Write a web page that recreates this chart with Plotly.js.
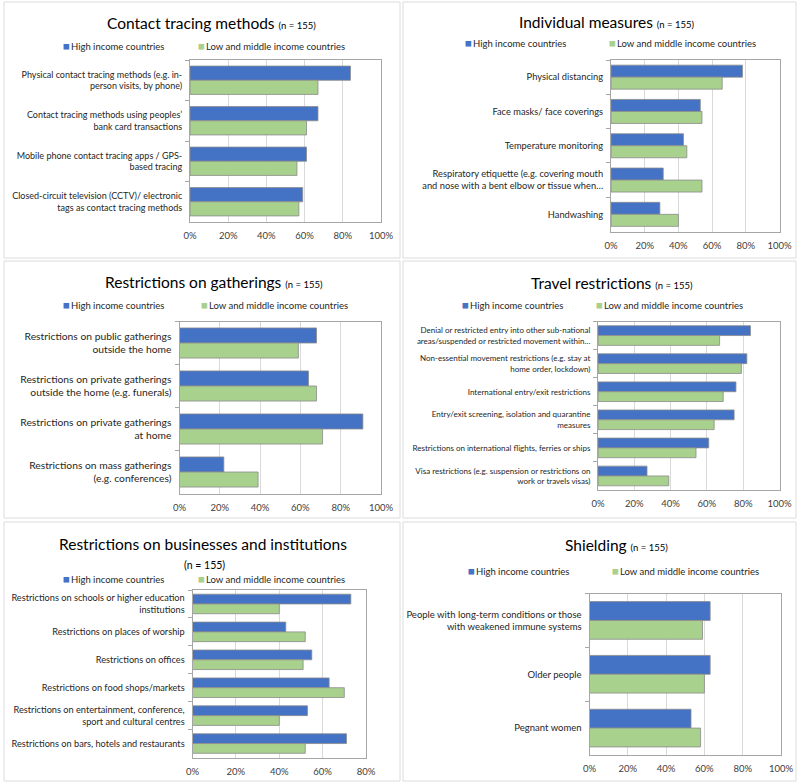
<!DOCTYPE html>
<html>
<head>
<meta charset="utf-8">
<script src="https://cdn.plot.ly/plotly-3.0.1.min.js"></script>
<style>html,body{margin:0;padding:0;background:#fff;}#chart{width:800px;height:784px;}</style>
</head>
<body>
<div id="chart"></div>
<script>
// ---------- DATA ----------
const seriesNames = ["High income countries", "Low and middle income countries"];

const contactCats = ["Physical contact tracing methods (e.g. in-<br>person visits, by phone)", "Contact tracing methods using peoples’<br>bank card transactions", "Mobile phone contact tracing apps / GPS-<br>based tracing", "Closed-circuit television (CCTV)/ electronic<br>tags as contact tracing methods"];
const contactHigh = [84, 67, 61, 59];
const contactLow = [67, 61, 56, 57];

const individualCats = ["Physical distancing", "Face masks/ face coverings", "Temperature monitoring", "Respiratory etiquette (e.g. covering mouth<br>and nose with a bent elbow or tissue when…", "Handwashing"];
const individualHigh = [78, 53, 43, 31, 29];
const individualLow = [66, 54, 45, 54, 40];

const gatherCats = ["Restrictions on public gatherings<br>outside the home", "Restrictions on private gatherings<br>outside the home (e.g. funerals)", "Restrictions on private gatherings<br>at home", "Restrictions on mass gatherings<br>(e.g. conferences)"];
const gatherHigh = [68, 64, 91, 22];
const gatherLow = [59, 68, 71, 39];

const travelCats = ["Denial or restricted entry into other sub-national<br>areas/suspended or restricted movement within…", "Non-essential movement restrictions (e.g. stay at<br>home order, lockdown)", "International entry/exit restrictions", "Entry/exit screening, isolation and quarantine<br>measures", "Restrictions on international flights, ferries or ships", "Visa restrictions (e.g. suspension or restrictions on<br>work or travels visas)"];
const travelHigh = [84, 82, 76, 75, 61, 27];
const travelLow = [67, 79, 69, 64, 54, 39];

const businessCats = ["Restrictions on schools or higher education<br>institutions", "Restrictions on places of worship", "Restrictions on offices", "Restrictions on food shops/markets", "Restrictions on entertainment, conference,<br>sport and cultural centres", "Restrictions on bars, hotels and restaurants"];
const businessHigh = [73, 43, 55, 63, 53, 71];
const businessLow = [40, 52, 51, 70, 40, 52];

const shieldCats = ["People with long-term conditions or those<br>with weakened immune systems", "Older people", "Pegnant women"];
const shieldHigh = [63, 63, 53];
const shieldLow = [59, 60, 58];

const xTickVals = [0, 20, 40, 60, 80, 100];
const xTickText = ["0%", "20%", "40%", "60%", "80%", "100%"];
const xTickValsBiz = [0, 20, 40, 60, 80];
const xTickTextBiz = ["0%", "20%", "40%", "60%", "80%"];

// ---------- STYLE / LAYOUT ----------
const W = 800, H = 784;
const px = v => v / W;
const py = v => 1 - v / H;
const BLUE = "#4472C4", GREEN = "#A9D18E";
const FONT = "Lato, 'Open Sans', sans-serif";

const panels = [
  {title: "Contact tracing methods", cats: contactCats, high: contactHigh, low: contactLow,
   x: [190, 381], y: [60, 222], xmax: 100, tv: xTickVals, tt: xTickText, lf: 9.0,
   tx: 211, ty: 23, legY: 45, legX1: 61, legX2: 196},
  {title: "Individual measures", cats: individualCats, high: individualHigh, low: individualLow,
   x: [611, 779.5], y: [60, 231.5], xmax: 100, tv: xTickVals, tt: xTickText, lf: 9.3,
   tx: 606, ty: 22, legY: 43, legX1: 463, legX2: 607},
  {title: "Restrictions on gatherings", cats: gatherCats, high: gatherHigh, low: gatherLow,
   x: [179.5, 381], y: [321.5, 493.5], xmax: 100, tv: xTickVals, tt: xTickText, lf: 10.3,
   tx: 214, ty: 282, legY: 305, legX1: 61, legX2: 199},
  {title: "Travel restrictions", cats: travelCats, high: travelHigh, low: travelLow,
   x: [598, 779.5], y: [321.5, 490], xmax: 100, tv: xTickVals, tt: xTickText, lf: 8.0,
   tx: 612, ty: 283, legY: 304, legX1: 460, legX2: 594},
  {title: "Restrictions on businesses and institutions", cats: businessCats, high: businessHigh, low: businessLow,
   x: [192.5, 366], y: [590, 757.5], xmax: 80, tv: xTickValsBiz, tt: xTickTextBiz, lf: 9.2,
   tx: 203, ty: 544, legY: 578, legX1: 61, legX2: 196, nBelow: true},
  {title: "Shielding", cats: shieldCats, high: shieldHigh, low: shieldLow,
   x: [589.5, 781], y: [593.5, 755], xmax: 100, tv: xTickVals, tt: xTickText, lf: 9.5,
   tx: 616, ty: 545, legY: 570, legX1: 466, legX2: 610}
];

const data = [];
const layout = {
  width: W, height: H,
  margin: {l: 0, r: 0, t: 0, b: 0},
  paper_bgcolor: "#ffffff", plot_bgcolor: "#ffffff",
  showlegend: false,
  barmode: "group", bargap: 0.3, bargroupgap: 0,
  font: {family: FONT, color: "#262626"},
  annotations: [], shapes: []
};

// panel frames
const frames = [[4, 2, 400, 258], [403, 2, 796, 258], [4, 261, 400, 518], [403, 261, 796, 518], [4, 522, 400, 781], [403, 522, 796, 781]];
frames.forEach(f => layout.shapes.push({type: "rect", xref: "paper", yref: "paper",
  x0: px(f[0]), x1: px(f[2]), y0: py(f[3]), y1: py(f[1]), line: {color: "#dcdcdc", width: 1}, layer: "below"}));

panels.forEach((p, i) => {
  const n = i + 1;
  const xa = n === 1 ? "x" : "x" + n, ya = n === 1 ? "y" : "y" + n;
  const xk = n === 1 ? "xaxis" : "xaxis" + n, yk = n === 1 ? "yaxis" : "yaxis" + n;
  [[p.high, BLUE, seriesNames[0]], [p.low, GREEN, seriesNames[1]]].forEach(s => {
    data.push({type: "bar", orientation: "h", name: s[2], x: s[0], y: p.cats,
      xaxis: xa, yaxis: ya, marker: {color: s[1], line: {color: "#8a8a8a", width: 0.8}},
      hovertemplate: "%{y}: %{x}%<extra>" + s[2] + "</extra>"});
  });
  layout[xk] = {domain: [px(p.x[0]), px(p.x[1])], anchor: ya, range: [0, p.xmax],
    tickmode: "array", tickvals: p.tv, ticktext: p.tt, showgrid: true, gridcolor: "#d9d9d9", gridwidth: 1,
    zeroline: false, showline: true, mirror: true, linecolor: "#a6a6a6", linewidth: 1,
    ticks: "", ticklabelstandoff: 5, tickfont: {size: 9.5, color: "#404040", family: FONT}, fixedrange: true};
  layout[yk] = {domain: [py(p.y[1]), py(p.y[0])], anchor: xa, autorange: "reversed",
    type: "category", showline: true, mirror: true, linecolor: "#a6a6a6", linewidth: 1,
    ticks: "outside", tickson: "boundaries", ticklen: 4, tickcolor: "#a6a6a6", ticklabelstandoff: 5,
    showgrid: false, tickfont: {size: p.lf, color: "#262626", family: FONT}, fixedrange: true};
  // title
  const tText = p.nBelow ? p.title : p.title + " <span style='font-size:9.5px'>(n = 155)</span>";
  layout.annotations.push({xref: "paper", yref: "paper", x: px(p.tx), y: py(p.ty), xanchor: "center", yanchor: "middle",
    text: tText, showarrow: false, font: {size: 15.5, family: FONT, color: "#000000"}});
  if (p.nBelow) {
    layout.annotations.push({xref: "paper", yref: "paper", x: px(205), y: py(565), xanchor: "center", yanchor: "middle",
      text: "(n = 155)", showarrow: false, font: {size: 10.5, family: FONT, color: "#000000"}});
  }
  // legend entries
  [[p.legX1, BLUE, seriesNames[0]], [p.legX2, GREEN, seriesNames[1]]].forEach(l => {
    layout.annotations.push({xref: "paper", yref: "paper", x: px(l[0]), y: py(p.legY), xanchor: "left", yanchor: "middle",
      text: "<span style='color:" + l[1] + ";font-size:11.5px'>■</span><span style='font-size:4px'> </span>" + l[2], showarrow: false,
      font: {size: 9.5, family: FONT, color: "#262626"}});
  });
});

Plotly.newPlot("chart", data, layout, {displayModeBar: false, staticPlot: true});
</script>
</body>
</html>
